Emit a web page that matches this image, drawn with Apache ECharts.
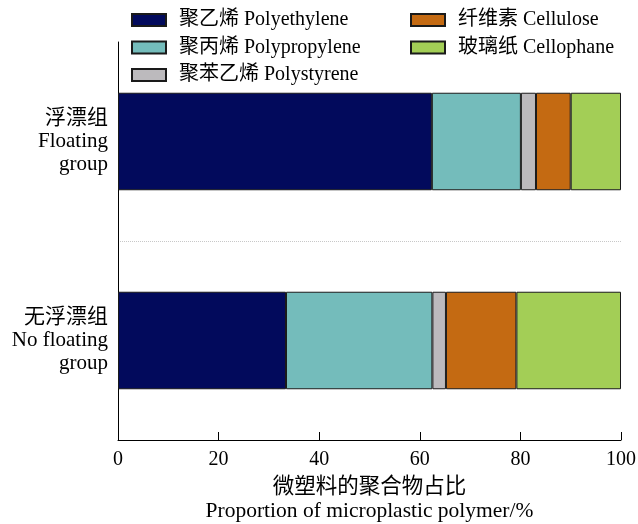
<!DOCTYPE html>
<html>
<head>
<meta charset="utf-8">
<script src="https://cdn.jsdelivr.net/npm/echarts@6/dist/echarts.min.js"></script>
<style>
  html, body { margin: 0; padding: 0; background: #fff; }
  #chart { width: 638px; height: 524px; }
</style>
</head>
<body>
<div id="chart"></div>
<script>
// Groups (top to bottom)
const groups = ['浮漂组\nFloating\ngroup', '无浮漂组\nNo floating\ngroup'];

// Polymer share (%) per group, in the same order as groups
const polyethylene  = [62.4, 33.4];
const polypropylene = [17.7, 29.1];
const polystyrene   = [3.0, 2.7];
const cellulose     = [6.9, 14.0];
const cellophane    = [10.0, 20.8];

const seriesNames = [
  '聚乙烯 Polyethylene',
  '聚丙烯 Polypropylene',
  '聚苯乙烯 Polystyrene',
  '纤维素 Cellulose',
  '玻璃纸 Cellophane'
];
const seriesValues = [polyethylene, polypropylene, polystyrene, cellulose, cellophane];
const seriesColors = ['#020a5c', '#74bcbb', '#bcbabd', '#c46a12', '#a3ce56'];

const xTicks = [0, 20, 40, 60, 80, 100];

const FONT = "'Liberation Serif', 'Times New Roman', 'Noto Sans CJK SC', serif";

const chart = echarts.init(document.getElementById('chart'), null, { renderer: 'canvas' });

const legendCommon = {
  orient: 'vertical',
  top: 5,
  padding: 5,
  itemWidth: 34,
  itemHeight: 12,
  itemGap: 7.5,
  icon: 'rect',
  textStyle: { fontFamily: FONT, fontSize: 20, color: '#000', padding: [0, 0, 0, 8] }
};

chart.setOption({
  animation: false,
  backgroundColor: '#fff',
  textStyle: { fontFamily: FONT },
  legend: [
    Object.assign({ left: 126, data: seriesNames.slice(0, 3) }, legendCommon),
    Object.assign({ left: 405, data: seriesNames.slice(3) }, legendCommon)
  ],
  grid: { left: 118, right: 17, top: 42, bottom: 84, outerBoundsMode: 'none', containLabel: false },
  xAxis: {
    type: 'value',
    min: xTicks[0],
    max: xTicks[xTicks.length - 1],
    interval: 20,
    name: '微塑料的聚合物占比\nProportion of microplastic polymer/%',
    nameLocation: 'middle',
    nameGap: 32,
    nameTextStyle: { fontFamily: FONT, fontSize: 21.5, color: '#000', lineHeight: 24 },
    axisLine: { show: true, lineStyle: { color: '#000', width: 1 } },
    axisTick: { show: true, inside: true, length: 8, lineStyle: { color: '#000' } },
    axisLabel: { fontFamily: FONT, fontSize: 20, color: '#000', margin: 10 },
    splitLine: { show: false }
  },
  yAxis: {
    type: 'category',
    data: groups,
    inverse: true,
    axisLine: { show: true, lineStyle: { color: '#000', width: 1 } },
    axisTick: { show: false },
    axisLabel: {
      fontFamily: FONT, fontSize: 21, color: '#000', lineHeight: 23,
      align: 'right', margin: 10, padding: [17, 0, 0, 0]
    },
    // only the boundary between the two groups is drawn (dotted)
    splitLine: {
      show: true,
      lineStyle: { color: ['rgba(0,0,0,0)', '#c8c8c8'], type: 'dotted', width: 1 }
    }
  },
  series: seriesNames.map((name, i) => ({
    name: name,
    type: 'bar',
    stack: 'total',
    data: seriesValues[i],
    barCategoryGap: '51%',
    itemStyle: { color: seriesColors[i], borderColor: '#1a1a1a', borderWidth: 1 }
  }))
});
</script>
</body>
</html>
